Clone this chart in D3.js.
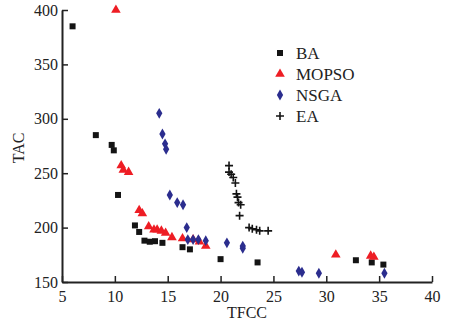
<!DOCTYPE html>
<html>
<head>
<meta charset="utf-8">
<script src="https://cdn.jsdelivr.net/npm/d3@7"></script>
<style>
  body { margin: 0; background: #fff; }
  text { font-family: "Liberation Serif", "Times New Roman", serif; fill: #222; }
</style>
</head>
<body>
<div id="chart"></div>
<script>
// values: [TFCC, TAC]
const baPoints = [
  [6.0, 385], [8.2, 285], [9.7, 276], [9.9, 271], [10.3, 230],
  [11.9, 202], [12.3, 196], [12.8, 188], [13.3, 187], [13.8, 187.5],
  [14.5, 186], [16.4, 182], [17.1, 180], [20.0, 171], [23.5, 168],
  [32.8, 170], [34.3, 168], [35.4, 166]
];
const mopsoPoints = [
  [10.1, 400], [10.6, 257], [10.8, 253], [11.3, 251], [12.3, 216],
  [12.6, 213], [13.2, 201], [13.7, 198], [14.0, 198], [14.4, 197],
  [14.8, 195], [15.4, 191], [16.4, 190], [17.4, 189], [18.0, 187],
  [18.6, 183], [30.9, 175], [34.2, 174], [34.5, 173]
];
const nsgaPoints = [
  [14.2, 305], [14.5, 286], [14.75, 277], [14.85, 272], [15.2, 230],
  [15.9, 223], [16.45, 221], [16.8, 200], [16.9, 189], [17.4, 189],
  [17.9, 189], [18.6, 188], [20.6, 186], [22.1, 183], [22.1, 181],
  [27.4, 160], [27.7, 159], [29.3, 158], [35.5, 158]
];
const eaPoints = [
  [20.8, 257], [20.8, 251], [21.0, 249], [21.2, 246], [21.4, 241],
  [21.5, 231], [21.6, 228], [21.7, 223], [21.9, 221], [21.8, 211],
  [22.7, 200], [23.0, 199], [23.4, 198], [23.7, 197], [24.5, 197]
];
const seriesNames = ['BA', 'MOPSO', 'NSGA', 'EA'];
const xTicks = [5, 10, 15, 20, 25, 30, 35, 40];
const yTicks = [150, 200, 250, 300, 350, 400];

const width = 453, height = 322;
const margin = { left: 62, top: 10, right: 21, bottom: 40 };

const svg = d3.select('#chart').append('svg')
  .attr('width', width)
  .attr('height', height);

const x = d3.scaleLinear().domain([5, 40]).range([margin.left, width - margin.right]);
const y = d3.scaleLinear().domain([150, 400]).range([height - margin.bottom, margin.top]);

// axes, ticks pointing inward
const xAxis = svg.append('g')
  .attr('transform', 'translate(0,' + y(150) + ')')
  .call(d3.axisBottom(x).tickValues(xTicks).tickSize(-6).tickPadding(9).tickSizeOuter(0));
const yAxis = svg.append('g')
  .attr('transform', 'translate(' + x(5) + ',0)')
  .call(d3.axisLeft(y).tickValues(yTicks).tickSize(-6).tickPadding(4).tickSizeOuter(0));

[xAxis, yAxis].forEach(g => {
  g.select('.domain').attr('stroke', '#222').attr('stroke-width', 2);
  g.selectAll('.tick line').attr('stroke', '#222').attr('stroke-width', 1.5);
  g.selectAll('.tick text')
    .style('font-family', '"Liberation Serif", serif')
    .style('font-size', '16px')
    .attr('fill', '#333');
});

svg.append('text')
  .attr('x', x(22.5))
  .attr('y', 318)
  .attr('text-anchor', 'middle')
  .style('font-size', '16px')
  .text('TFCC');

svg.append('text')
  .attr('transform', 'translate(24,148) rotate(-90)')
  .attr('text-anchor', 'middle')
  .style('font-size', '16px')
  .text('TAC');

const styles = {
  BA: { type: d3.symbolSquare, size: 36, color: '#141414' },
  MOPSO: { type: d3.symbolTriangle, size: 40, color: '#ee1d24' },
  NSGA: { type: d3.symbolDiamond, size: 34, color: '#2b2d8e' },
  EA: { type: null, size: 8, color: '#141414' }
};
const seriesData = { BA: baPoints, MOPSO: mopsoPoints, NSGA: nsgaPoints, EA: eaPoints };

function drawMarker(g, name, cx, cy) {
  const s = styles[name];
  if (s.type) {
    g.append('path')
      .attr('d', d3.symbol().type(s.type).size(s.size)())
      .attr('transform', 'translate(' + cx + ',' + cy + ')')
      .attr('fill', s.color);
  } else {
    const h = s.size / 2;
    g.append('path')
      .attr('d', 'M' + (cx - h) + ',' + cy + 'H' + (cx + h) + 'M' + cx + ',' + (cy - h) + 'V' + (cy + h))
      .attr('stroke', s.color)
      .attr('stroke-width', 1.6)
      .attr('fill', 'none');
  }
}

const marks = svg.append('g');
seriesNames.forEach(name => {
  seriesData[name].forEach(d => drawMarker(marks, name, x(d[0]), y(d[1])));
});

// legend
const legend = svg.append('g');
seriesNames.forEach((name, i) => {
  const ly = 53 + i * 21;
  drawMarker(legend, name, 280, ly);
  legend.append('text')
    .attr('x', 296)
    .attr('y', ly + 6)
    .style('font-size', '17px')
    .text(name);
});
</script>
</body>
</html>
